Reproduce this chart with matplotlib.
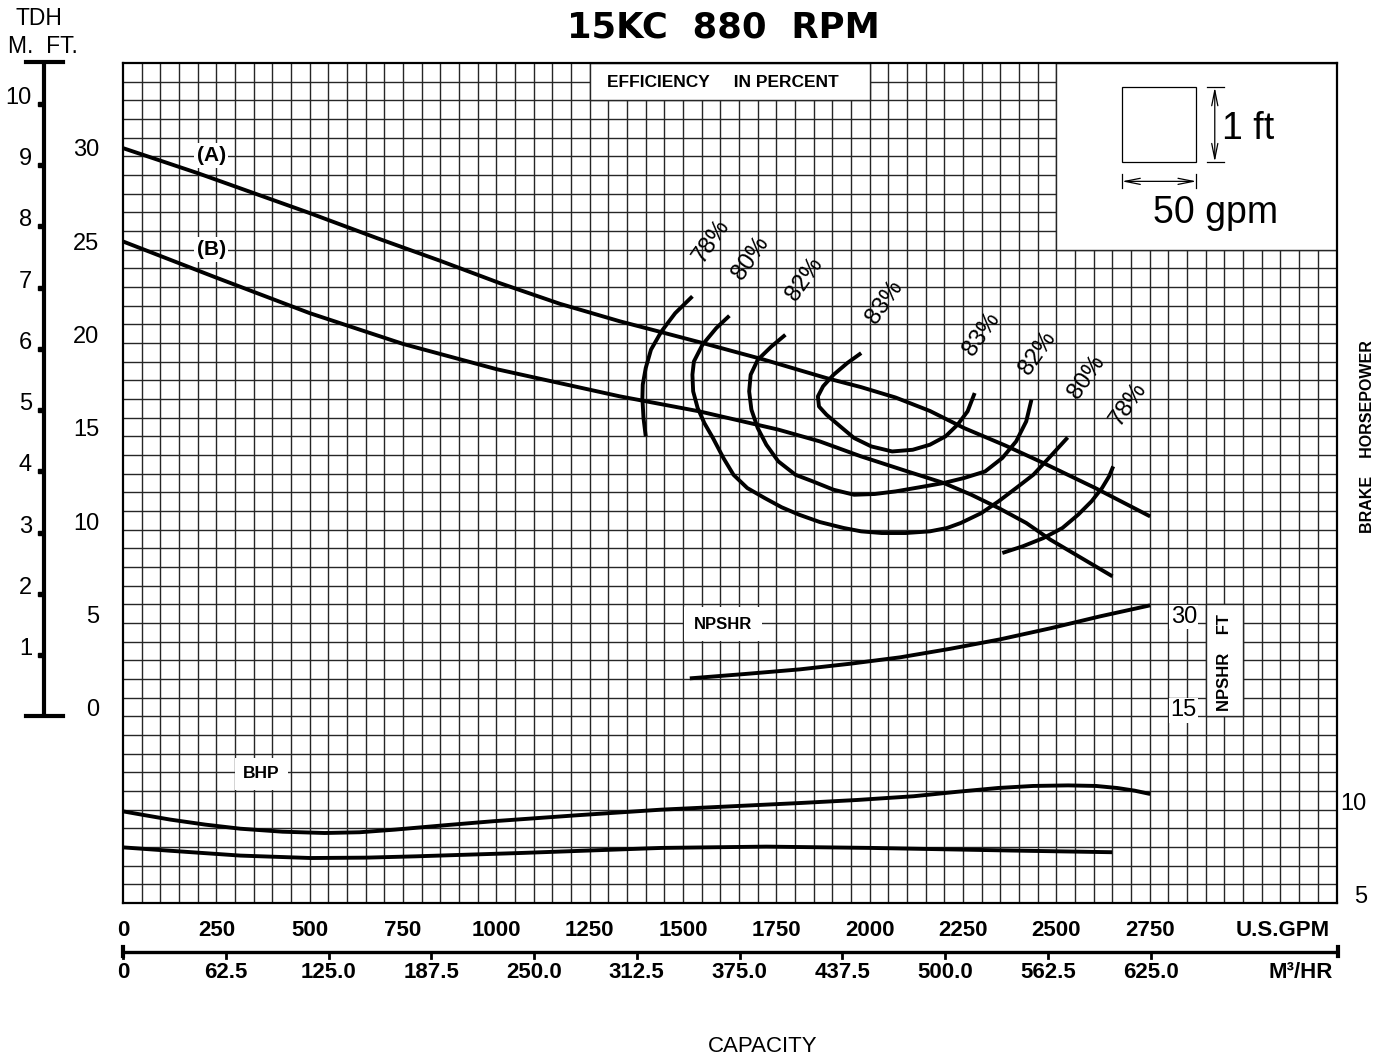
import matplotlib.pyplot as plt
from matplotlib.patches import Rectangle
import numpy as np

W, H = 1387, 1059
SANS = ['Liberation Sans', 'DejaVu Sans']
INK = 'black'
GRID = '#262626'

# ---- data (capacity in US gpm, head in ft) ----
qa = [0, 200, 500, 680, 850, 1010, 1170, 1331, 1442, 1552, 1718, 1884, 1976, 2069,
      2161, 2253, 2364, 2465, 2604, 2751]
ha = [30.44, 29.10, 26.96, 25.62, 24.40, 23.20, 22.10, 21.16, 20.58, 20.0, 19.10, 18.12,
      17.64, 17.08, 16.36, 15.44, 14.50, 13.57, 12.23, 10.71]

qb = [0, 250, 500, 750, 1000, 1331, 1543, 1755, 1866, 1976, 2087, 2198, 2272, 2345,
      2419, 2484, 2567, 2650]
hb = [25.44, 23.50, 21.60, 19.95, 18.60, 17.14, 16.34, 15.36, 14.73, 13.93, 13.21,
      12.50, 11.87, 11.16, 10.36, 9.46, 8.48, 7.50]

# iso-efficiency lines
e78l_q = [1525, 1479, 1442, 1414, 1400, 1392, 1391, 1394, 1400]
e78l_h = [22.50, 21.60, 20.62, 19.64, 18.66, 17.77, 17.05, 15.98, 15.0]
e80_q = [1624, 1589, 1552, 1529, 1525, 1527, 1539, 1557, 1580, 1608, 1635, 1672, 1718,
         1764, 1811, 1866, 1930, 1977, 2032, 2096, 2161, 2207, 2244, 2299, 2345, 2392,
         2438, 2484, 2530]
e80_h = [21.46, 20.80, 19.91, 19.01, 18.30, 17.41, 16.52, 15.71, 14.91, 13.84, 12.94,
         12.23, 11.70, 11.20, 10.80, 10.41, 10.09, 9.91, 9.82, 9.82, 9.91, 10.09, 10.36,
         10.89, 11.52, 12.23, 12.94, 13.93, 14.94]
e82_q = [1774, 1737, 1700, 1681, 1677, 1683, 1700, 1723, 1755, 1801, 1847, 1903, 1958,
         2013, 2069, 2133, 2198, 2253, 2309, 2355, 2392, 2419, 2433]
e82_h = [20.44, 19.82, 19.10, 18.30, 17.41, 16.43, 15.44, 14.55, 13.66, 12.94, 12.59,
         12.14, 11.87, 11.91, 12.05, 12.27, 12.50, 12.77, 13.12, 13.84, 14.73, 15.80, 16.96]
e83_q = [1977, 1940, 1903, 1875, 1861, 1864, 1884, 1921, 1958, 2004, 2060, 2115, 2161,
         2203, 2235, 2262, 2281]
e83_h = [19.46, 18.93, 18.30, 17.68, 17.14, 16.60, 16.16, 15.53, 14.91, 14.46, 14.19,
         14.28, 14.55, 15.0, 15.62, 16.34, 17.32]
e78r_q = [2355, 2410, 2465, 2516, 2558, 2594, 2622, 2641, 2652]
e78r_h = [8.75, 9.11, 9.55, 10.09, 10.80, 11.52, 12.23, 12.86, 13.39]

eff_labels = ['78%', '80%', '82%', '83%', '83%', '82%', '80%', '78%']
eff_lab_q = [1577, 1682, 1826, 2041, 2300, 2450, 2582, 2694]
eff_lab_h = [25.44, 24.53, 23.41, 22.17, 20.46, 19.44, 18.16, 16.74]

# brake horsepower
bhp_a_q = [0, 51, 126, 220, 314, 427, 540, 634, 728, 859, 991, 1216, 1441, 1629, 1817,
           1967, 2118, 2230, 2343, 2437, 2531, 2606, 2663, 2709, 2751]
bhp_a = [9.91, 9.73, 9.47, 9.20, 8.98, 8.82, 8.75, 8.79, 8.93, 9.16, 9.38, 9.70, 10.0,
         10.18, 10.36, 10.52, 10.72, 10.95, 11.16, 11.27, 11.30, 11.27, 11.16, 11.02, 10.84]
bhp_b_q = [0, 126, 314, 502, 652, 784, 1066, 1441, 1723, 2005, 2381, 2649]
bhp_b = [7.98, 7.80, 7.54, 7.41, 7.43, 7.50, 7.68, 7.95, 8.02, 7.95, 7.81, 7.72]

# NPSHR (ft)
npshr_q = [1518, 1665, 1813, 1947, 2081, 2215, 2349, 2483, 2617, 2751]
npshr = [21.1, 21.8, 22.55, 23.45, 24.48, 25.85, 27.37, 29.14, 31.07, 32.84]

gpm_ticks = [0, 250, 500, 750, 1000, 1250, 1500, 1750, 2000, 2250, 2500, 2750]
m3_ticks = [0, 62.5, 125.0, 187.5, 250.0, 312.5, 375.0, 437.5, 500.0, 562.5, 625.0]
m3_labels = ['0', '62.5', '125.0', '187.5', '250.0', '312.5', '375.0',
             '437.5', '500.0', '562.5', '625.0']
ft_ticks = [0, 5, 10, 15, 20, 25, 30]
m_ticks = [1, 2, 3, 4, 5, 6, 7, 8, 9, 10]
bhp_ticks = [10, 5]
npshr_ticks = [30, 15]

GPM_PER_M3HR = 4.403
FT_PER_M = 3.2808


def bhp_y(b):
    return np.asarray(b, dtype=float) - 15.0


def npshr_y(n):
    return (np.asarray(n, dtype=float) - 15.0) / 3.0


fig = plt.figure(figsize=(W / 100, H / 100), dpi=100)
ax = fig.add_axes([123 / W, 1 - 903 / H, 1213.5 / W, 840 / H])
ax.set_xlim(0, 3250)
ax.set_ylim(-10, 35)
ax.set_xticks([])
ax.set_yticks([])
for s in ax.spines.values():
    s.set_linewidth(1.6)

# squared paper
ax.vlines(np.arange(50, 3250, 50), -10, 35, color=GRID, lw=1.0, zorder=0)
ax.hlines(np.arange(-9, 35, 1), 0, 3250, color=GRID, lw=1.0, zorder=0)

# blanked areas
for (x0, y0, w, h) in [(1250, 33, 750, 2), (2500, 25, 750, 10), (2900, 0, 100, 6)]:
    ax.add_patch(Rectangle((x0, y0), w, h, fc='white', ec=GRID, lw=1.0, zorder=1))

# scale key
ax.add_patch(Rectangle((2675, 29.7), 200, 4, fc='none', ec=INK, lw=0.9, zorder=2))
arr = dict(arrowstyle='<->, head_length=1.1, head_width=0.22', lw=0.9, color=INK,
           shrinkA=0, shrinkB=0)
ax.annotate('', xy=(2924, 33.7), xytext=(2924, 29.7), arrowprops=arr)
ax.plot([2903, 2949], [33.7, 33.7], color=INK, lw=0.9)
ax.plot([2903, 2949], [29.7, 29.7], color=INK, lw=0.9)
ax.annotate('', xy=(2675, 28.66), xytext=(2875, 28.66), arrowprops=arr)
ax.plot([2675, 2675], [28.28, 29.08], color=INK, lw=0.9)
ax.plot([2875, 2875], [28.28, 29.08], color=INK, lw=0.9)
ax.text(3013, 31.49, '1 ft', family=SANS, fontsize=27, ha='center', va='center')
ax.text(2927, 26.94, '50 gpm', family=SANS, fontsize=27, ha='center', va='center')

ax.text(1607, 33.95, 'EFFICIENCY     IN PERCENT', family=SANS, fontweight='bold',
        fontsize=12.5, ha='center', va='center', zorder=3)

# curves
cw = dict(color=INK, lw=2.8, zorder=4, solid_joinstyle='round', solid_capstyle='butt')
ax.plot(qa, ha, **cw)
ax.plot(qb, hb, **cw)
for q, h in [(e78l_q, e78l_h), (e80_q, e80_h), (e82_q, e82_h), (e83_q, e83_h),
             (e78r_q, e78r_h)]:
    ax.plot(q, h, **cw)
ax.plot(bhp_a_q, bhp_y(bhp_a), **cw)
ax.plot(bhp_b_q, bhp_y(bhp_b), **cw)
ax.plot(npshr_q, npshr_y(npshr), **cw)

for lab, q, h in zip(eff_labels, eff_lab_q, eff_lab_h):
    ax.text(q, h, lab, family=SANS, fontsize=17, rotation=55,
            ha='center', va='center', rotation_mode='anchor')

wbox = dict(fc='white', ec='none', pad=2)
ax.text(236, 30.05, '(A)', family=SANS, fontweight='bold', fontsize=15,
        ha='center', va='center', bbox=wbox)
ax.text(236, 25.01, '(B)', family=SANS, fontweight='bold', fontsize=15,
        ha='center', va='center', bbox=wbox)
ax.text(1607, 4.93, 'NPSHR', family=SANS, fontweight='bold', fontsize=12,
        ha='center', va='center', bbox=dict(fc='white', ec='none', pad=7))
ax.text(370, -3.08, 'BHP', family=SANS, fontweight='bold', fontsize=12.5,
        ha='center', va='center', bbox=dict(fc='white', ec='none', pad=6))
ax.text(2950, 2.9, 'NPSHR    FT', family=SANS, fontweight='bold', fontsize=12,
        rotation=90, ha='center', va='center', zorder=3)
for n in npshr_ticks:
    ax.text(2876, float(npshr_y(n)), str(n), family=SANS, fontsize=17,
            ha='right', va='baseline', bbox=dict(fc='white', ec='none', pad=1))

# right BHP scale
for b in bhp_ticks:
    ax.text(3331, float(bhp_y(b)), str(b), family=SANS, fontsize=17,
            ha='right', va='baseline', clip_on=False)

# left head scales
for v in ft_ticks:
    ax.text(-64, v, str(v), family=SANS, fontsize=17, ha='right', va='baseline',
            clip_on=False)
xm = -211.6
ax.plot([xm, xm], [0, 35.03], color=INK, lw=3, clip_on=False, solid_capstyle='butt')
ax.plot([-260, -161], [0, 0], color=INK, lw=3, clip_on=False)
ax.plot([-260, -161], [35.03, 35.03], color=INK, lw=3, clip_on=False)
ax.plot([-222] * len(m_ticks), np.array(m_ticks) * FT_PER_M, 's', color=INK, ms=2.2,
        clip_on=False)
for m in m_ticks:
    ax.text(-244, m * FT_PER_M, str(m), family=SANS, fontsize=17, ha='right',
            va='baseline', clip_on=False)
fig.text(38.5 / W, 1 - 25 / H, 'TDH', family=SANS, fontsize=16.5, ha='center',
         va='baseline')
fig.text(43 / W, 1 - 53 / H, 'M.  FT.', family=SANS, fontsize=16.5, ha='center',
         va='baseline')

# capacity scales
for q in gpm_ticks:
    ax.text(q, -11.78, str(q), family=SANS, fontweight='bold', fontsize=16,
            ha='center', va='baseline', clip_on=False)
ax.text(3232, -11.78, 'U.S.GPM', family=SANS, fontweight='bold', fontsize=16,
        ha='right', va='baseline', clip_on=False)
ax.plot([0, 3254], [-12.62, -12.62], color=INK, lw=2.4, clip_on=False,
        solid_capstyle='butt')
for xe in [0, 3254]:
    ax.plot([xe, xe], [-12.37, -12.85], color=INK, lw=3, clip_on=False)
for m3, lab in zip(m3_ticks, m3_labels):
    q = m3 * GPM_PER_M3HR
    ax.plot([q, q], [-12.62, -12.92], color=INK, lw=2, clip_on=False)
    ax.text(q, -14.03, lab, family=SANS, fontweight='bold', fontsize=16,
            ha='center', va='baseline', clip_on=False)
ax.text(3240, -14.03, 'M\u00b3/HR', family=SANS, fontweight='bold', fontsize=16,
        ha='right', va='baseline', clip_on=False)

fig.text(1368 / W, 1 - 437 / H, 'BRAKE    HORSEPOWER', family=SANS, fontweight='bold',
         fontsize=11.5, rotation=90, ha='center', va='center')
fig.text(763 / W, 1 - 1046 / H, 'CAPACITY', family=SANS, fontsize=16,
         ha='center', va='center')
fig.text(723 / W, 1 - 37 / H, '15KC  880  RPM', family=['DejaVu Sans'],
         fontweight='bold', fontsize=25.5, ha='center', va='baseline')

fig.savefig('out.png', dpi=100, facecolor='white')
